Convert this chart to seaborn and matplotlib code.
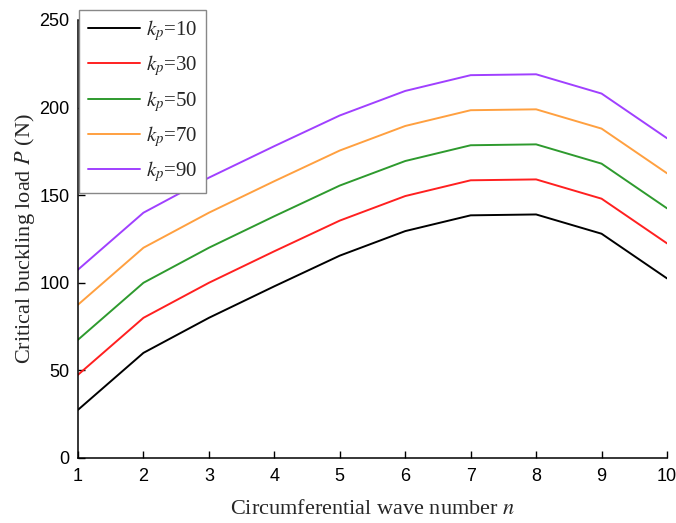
import matplotlib.pyplot as plt
import seaborn as sns
import pandas as pd

# DATA
waveNumbers = [1, 2, 3, 4, 5, 6, 7, 8, 9, 10]
kpValues = [10, 30, 50, 70, 90]
load_kp10 = [27.5, 60, 80, 98, 115.5, 129.5, 138.5, 139, 128, 102.5]
load_kp30 = [47.5, 80, 100, 118, 135.5, 149.5, 158.5, 159, 148, 122.5]
load_kp50 = [67.5, 100, 120, 138, 155.5, 169.5, 178.5, 179, 168, 142.5]
load_kp70 = [87.5, 120, 140, 158, 175.5, 189.5, 198.5, 199, 188, 162.5]
load_kp90 = [107.5, 140, 160, 178, 195.5, 209.5, 218.5, 219, 208, 182.5]
lineColors = ['#000000', '#ff2020', '#2e9a2e', '#ffa040', '#a040ff']

loads = [load_kp10, load_kp30, load_kp50, load_kp70, load_kp90]
rows = []
for kp, series in zip(kpValues, loads):
    for n, p in zip(waveNumbers, series):
        rows.append({'n': n, 'P': p, 'kp': r'$k_p$=%d' % kp})
df = pd.DataFrame(rows)

# PLOT
sns.set_style('ticks')
plt.rcParams['mathtext.fontset'] = 'stix'
plt.rcParams['font.family'] = ['Liberation Sans', 'DejaVu Sans']

fig = plt.figure(figsize=(6.76, 5.23), dpi=100)
ax = fig.add_axes([0.1154, 0.1243, 0.8713, 0.8375])

sns.lineplot(data=df, x='n', y='P', hue='kp', palette=lineColors, linewidth=1.4, ax=ax)

ax.set_xlim(1, 10)
ax.set_ylim(0, 250)
ax.set_xticks(waveNumbers)
ax.set_yticks(range(0, 251, 50))
ax.tick_params(direction='in', length=5, width=1, labelsize=13, colors='black')
ax.tick_params(axis='y', pad=6)
ax.tick_params(axis='x', pad=7)
for side in ['top', 'right']:
    ax.spines[side].set_visible(False)
for side in ['left', 'bottom']:
    ax.spines[side].set_linewidth(1.1)
    ax.spines[side].set_color('black')

serif = {'family': 'Liberation Serif', 'size': 16}
ax.set_xlabel(r'Circumferential wave number $\mathit{n}$', fontdict=serif, labelpad=11)
ax.set_ylabel(r'Critical buckling load $\mathit{P}$ (N)', fontdict=serif, labelpad=2)

leg = ax.legend(loc='upper left', bbox_to_anchor=(0.002, 1.023), borderaxespad=0,
                frameon=True, fancybox=False, edgecolor='#888888', framealpha=1,
                prop={'family': 'Liberation Serif', 'size': 15},
                handlelength=2.5, handletextpad=0.3, labelspacing=0.5,
                borderpad=0.4, title=None)
leg.get_frame().set_linewidth(1.0)

fig.savefig('out.png', dpi=100)
